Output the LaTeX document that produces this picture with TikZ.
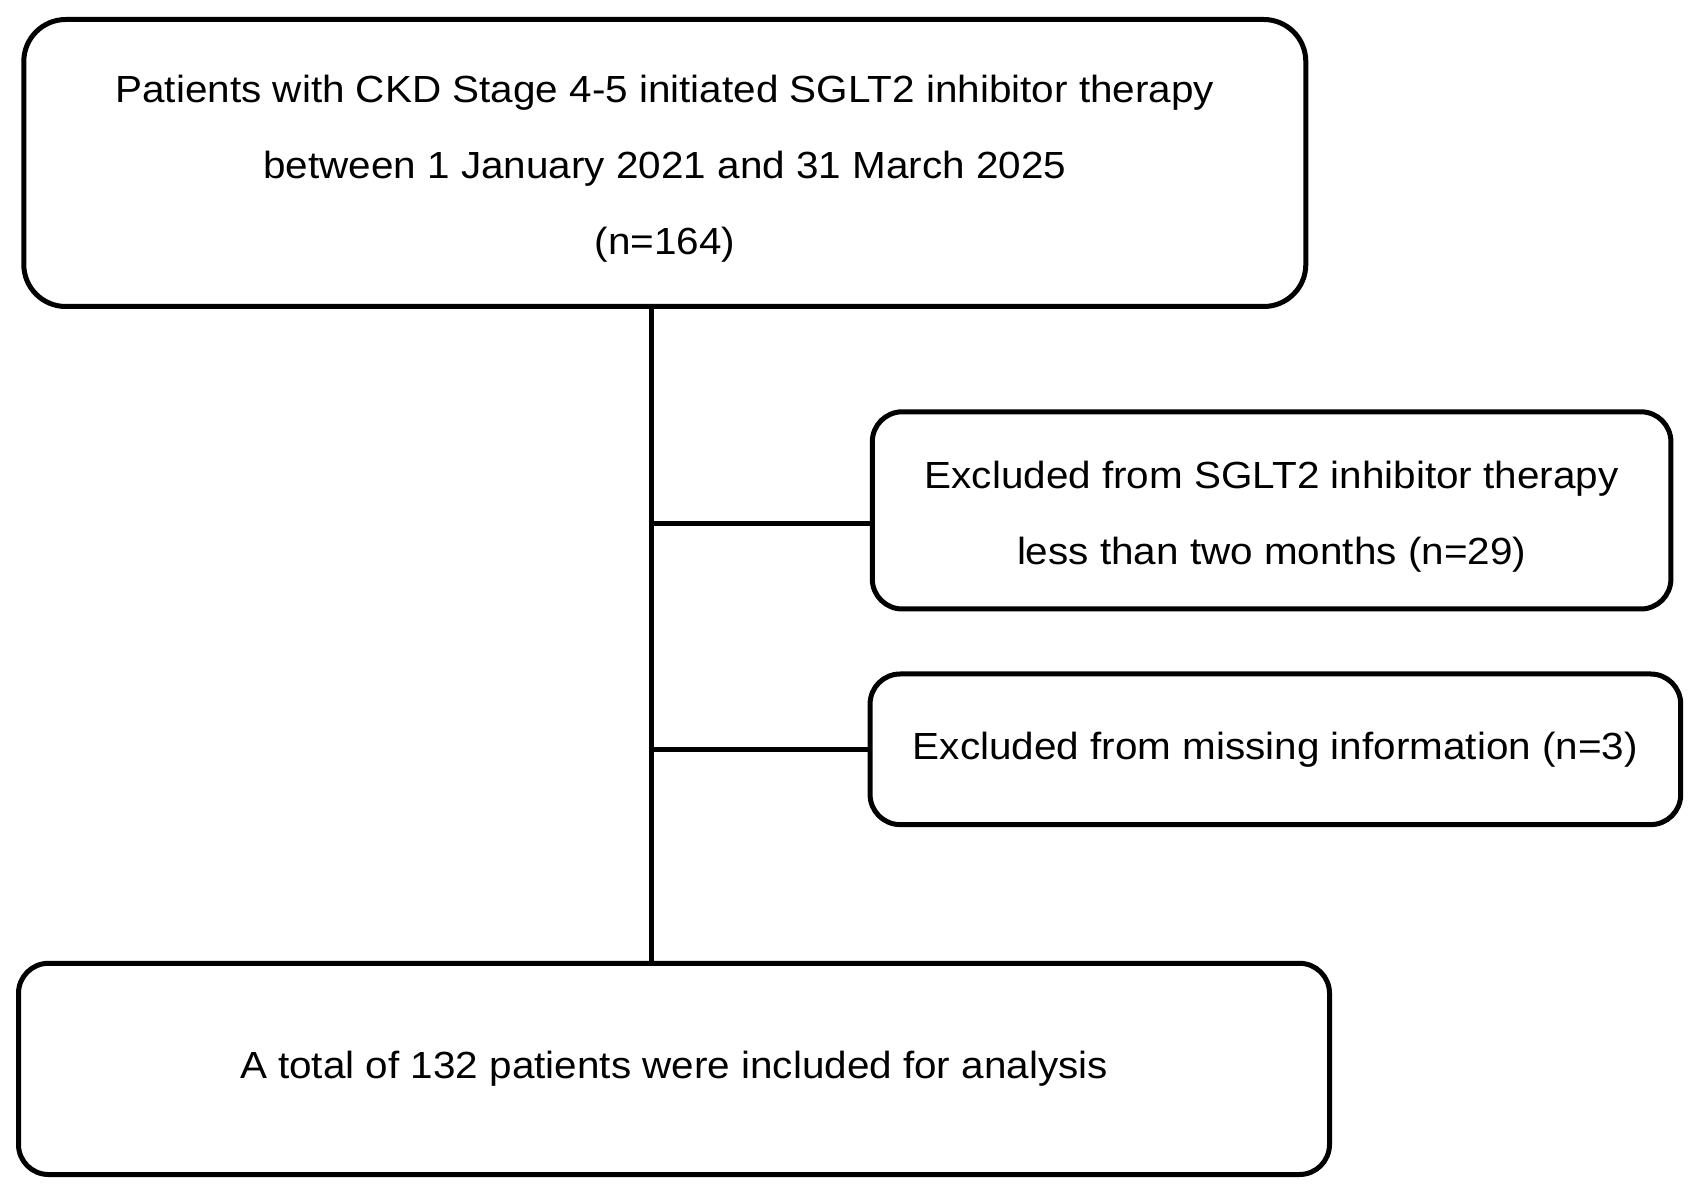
\documentclass[tikz,border=0pt]{standalone}
\usepackage{fontspec}
\setmainfont{Liberation Sans}[FakeStretch=1.07]
\begin{document}
\begin{tikzpicture}[x=0.5pt,y=-0.5pt,
  boxstyle/.style={draw=black, line width=2.5pt, fill=white, rounded corners=15pt,
    align=center, inner sep=0pt, font=\fontsize{18.9pt}{38pt}\selectfont},
  link/.style={draw=black, line width=2.5pt}]
\useasboundingbox (0,0) rectangle (1699,1192);
\fill[white] (0,0) rectangle (1699,1192);
\node[boxstyle, rounded corners=21pt, minimum width=641pt, minimum height=143.5pt] (top) at (664.8,163)
  {\rule{0pt}{19.3pt}Patients with CKD Stage 4-5 initiated SGLT2 inhibitor therapy\\between 1 January 2021 and 31 March 2025\\(n=164)};
\node[boxstyle, minimum width=399.3pt, minimum height=98.6pt] (ex1) at (1271.6,510.4)
  {\rule{0pt}{19.6pt}Excluded from SGLT2 inhibitor therapy\\less than two months (n=29)};
\node[boxstyle, minimum width=405.3pt, minimum height=75.3pt] (ex2) at (1275.4,749.3)
  {Excluded from missing information (n=3)};
\node[boxstyle, minimum width=655.5pt, minimum height=105.6pt] (bot) at (674,1068.9)
  {A total of 132 patients were included for analysis};
\coordinate (j1) at (651,523.4);
\coordinate (j2) at (651,749.3);
\draw[link] (top.south -| j1) -- (bot.north -| j1);
\draw[link] (j1) -- (j1 -| ex1.west);
\draw[link] (j2) -- (j2 -| ex2.west);
\end{tikzpicture}
\end{document}
